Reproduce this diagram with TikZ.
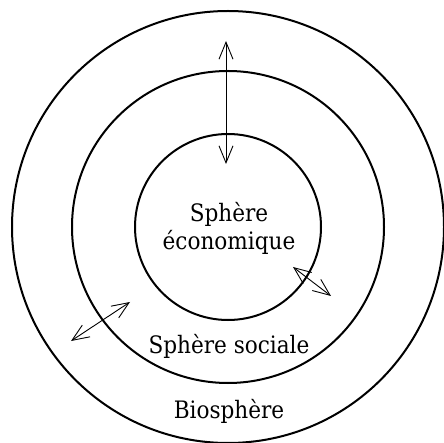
\documentclass[tikz,border=0pt]{standalone}
\usepackage{fontspec}
\setmainfont{DejaVu Serif Condensed}
\usepackage{tikz}
\usetikzlibrary{arrows.meta,positioning}
\tikzset{
  sphere/.style={draw=black,line width=2pt,circle,inner sep=0pt},
  flux/.style={{Straight Barb[length=17pt,width=14pt]}-{Straight Barb[length=17pt,width=14pt]},draw=black,line width=0.9pt},
  lbl/.style={font=\fontsize{24}{28}\selectfont,align=center,inner sep=0pt},
}
\begin{document}
\begin{tikzpicture}[x=1pt,y=-1pt]
  \useasboundingbox (0,0) rectangle (444,443);
  \coordinate (C) at (228,227);
  \node[sphere,minimum size=432pt] (bio) at (C) {};
  \node[sphere,minimum size=312pt] (soc) at (C) {};
  \node[sphere,minimum size=186pt] (eco) at (C) {};

  \node[lbl] (ecoT) at (229,228) {Sphère\\économique};
  \node[lbl] (socT) at (229,346) {Sphère sociale};
  \node[lbl] (bioT) at (229,411) {Biosphère};

  % exchanges between the spheres
  \coordinate (a1) at (226,41);  \coordinate (a2) at (226,164);
  \coordinate (b1) at (71,341);  \coordinate (b2) at (130,302);
  \coordinate (c1) at (293,267); \coordinate (c2) at (331,296);
  \draw[flux] (a1) -- (a2);
  \draw[flux] (b1) -- (b2);
  \draw[flux] (c1) -- (c2);
\end{tikzpicture}
\end{document}
